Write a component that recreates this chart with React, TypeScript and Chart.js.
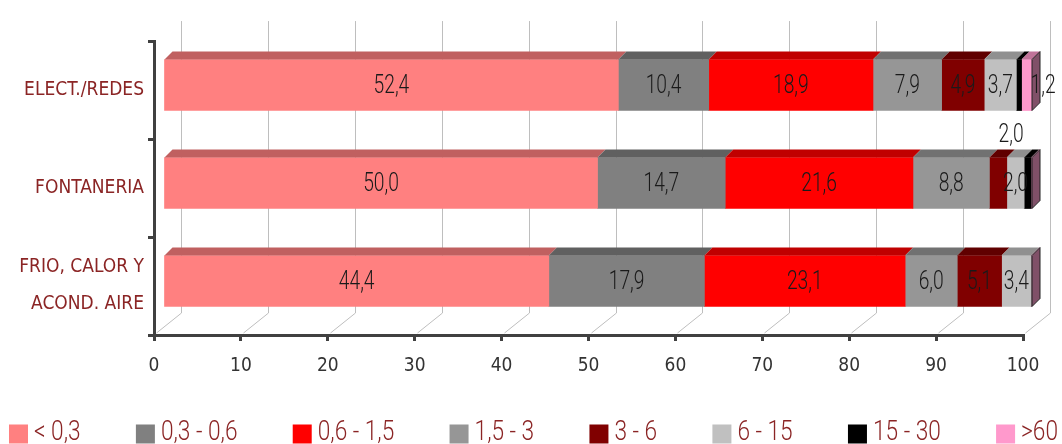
import React, { useEffect, useRef } from "react";
import { Chart, registerables } from "chart.js";
Chart.register(...registerables);

const FONT = "'Liberation Sans Narrow', 'Arial Narrow', 'DejaVu Sans Condensed', sans-serif";
const LIGHT_FONT = "Roboto, 'Open Sans', sans-serif";

const categories = [["ELECT./REDES"], ["FONTANERIA"], ["FRIO, CALOR Y", "ACOND. AIRE"]];
const seriesNames = ["< 0,3", "0,3 - 0,6", "0,6 - 1,5", "1,5 - 3", "3 - 6", "6 - 15", "15 - 30", ">60"];
const sLt03 = [52.4, 50.0, 44.4];
const s03to06 = [10.4, 14.7, 17.9];
const s06to15 = [18.9, 21.6, 23.1];
const s15to3 = [7.9, 8.8, 6.0];
const s3to6 = [4.9, 2.0, 5.1];
const s6to15 = [3.7, 2.0, 3.4];
const s15to30 = [0.6, 0.8, 0.0];
const sGt60 = [1.2, 0.1, 0.1];
const seriesValues = [sLt03, s03to06, s06to15, s15to3, s3to6, s6to15, s15to30, sGt60];
const xTicks = [0, 10, 20, 30, 40, 50, 60, 70, 80, 90, 100];

const frontColors = ["#FF8080", "#808080", "#FF0000", "#969696", "#800000", "#C0C0C0", "#000000", "#FF99CC"];
const topColors = ["#C06060", "#606060", "#C00000", "#717171", "#600000", "#909090", "#000000", "#C07399"];
const sideColors = ["#804040", "#404040", "#800000", "#4B4B4B", "#400000", "#606060", "#000000", "#805068"];
// [category, series] whose value label sits above the bar
const raisedLabels = [[1, 4]];

const DEPTH = 8;
const SHIFT_X = 9;
const SHIFT_Y = -5;
const WALL_X = 27;
const WALL_Y = -22;
const LABEL_SIZE = 26;
const LABEL_SX = 0.74;
const LEGEND_SIZE = 27;
const LEGEND_SX = 0.84;

function fmt(v: number) {
  return v.toFixed(1).replace(".", ",");
}

function narrowText(ctx: any, txt: string, x: number, y: number, align: string, sx: number) {
  ctx.save();
  ctx.translate(x, y);
  ctx.scale(sx, 1);
  ctx.textAlign = align;
  ctx.fillText(txt, 0, 0);
  ctx.restore();
}

const threeD = {
  id: "threeD",
  beforeDatasetsDraw(chart: any) {
    const { ctx, chartArea, scales } = chart;
    const x = scales.x;
    ctx.save();
    ctx.strokeStyle = "#BEBEBE";
    ctx.lineWidth = 1;
    xTicks.forEach((v) => {
      const px = Math.round(x.getPixelForValue(v)) + 0.5;
      ctx.beginPath();
      ctx.moveTo(px + 2, chartArea.bottom - 2);
      ctx.lineTo(px + WALL_X, chartArea.bottom + WALL_Y);
      ctx.lineTo(px + WALL_X, chartArea.top - 20);
      ctx.stroke();
    });
    ctx.restore();
    ctx.save();
    ctx.translate(SHIFT_X, SHIFT_Y);
  },
  afterDatasetsDraw(chart: any) {
    const ctx = chart.ctx;
    const nCat = chart.data.labels.length;
    const nSet = chart.data.datasets.length;
    for (let j = 0; j < nCat; j++) {
      let last = -1;
      for (let i = 0; i < nSet; i++) if (chart.data.datasets[i].data[j] > 0) last = i;
      for (let i = 0; i < nSet; i++) {
        const v = chart.data.datasets[i].data[j];
        if (!(v > 0)) continue;
        const bar = chart.getDatasetMeta(i).data[j];
        const p = bar.getProps(["x", "y", "base", "height"], true);
        const x0 = Math.min(p.base, p.x);
        const x1 = Math.max(p.base, p.x);
        const y0 = p.y - p.height / 2;
        const y1 = p.y + p.height / 2;
        ctx.fillStyle = topColors[i];
        ctx.beginPath();
        ctx.moveTo(x0, y0);
        ctx.lineTo(x0 + DEPTH, y0 - DEPTH);
        ctx.lineTo(x1 + DEPTH, y0 - DEPTH);
        ctx.lineTo(x1, y0);
        ctx.closePath();
        ctx.fill();
        if (i === last) {
          ctx.fillStyle = sideColors[i];
          ctx.beginPath();
          ctx.moveTo(x1, y0);
          ctx.lineTo(x1 + DEPTH, y0 - DEPTH);
          ctx.lineTo(x1 + DEPTH, y1 - DEPTH);
          ctx.lineTo(x1, y1);
          ctx.closePath();
          ctx.fill();
          ctx.strokeStyle = "#222";
          ctx.lineWidth = 1;
          ctx.stroke();
        }
      }
    }
    ctx.font = "300 " + LABEL_SIZE + "px " + LIGHT_FONT;
    ctx.fillStyle = "#1A1A1A";
    ctx.textBaseline = "middle";
    for (let j = 0; j < nCat; j++) {
      let last = -1;
      for (let i = 0; i < nSet; i++) if (chart.data.datasets[i].data[j] > 0) last = i;
      for (let i = 0; i < nSet; i++) {
        const v = chart.data.datasets[i].data[j];
        if (!(v >= 1)) continue;
        const bar = chart.getDatasetMeta(i).data[j];
        const p = bar.getProps(["x", "y", "base", "height"], true);
        const x0 = Math.min(p.base, p.x);
        const x1 = Math.max(p.base, p.x);
        const txt = fmt(v);
        const w = ctx.measureText(txt).width * LABEL_SX;
        const raised = raisedLabels.some((r) => r[0] === j && r[1] === i);
        if (raised) {
          narrowText(ctx, txt, (x0 + x1) / 2 + DEPTH + 5, p.y - p.height / 2 - DEPTH - 14, "center", LABEL_SX);
        } else if (i === last && w > x1 - x0) {
          narrowText(ctx, txt, x0 + DEPTH + 1, p.y + 1, "left", LABEL_SX);
        } else {
          narrowText(ctx, txt, (x0 + x1) / 2, p.y + 1, "center", LABEL_SX);
        }
      }
    }
    ctx.restore();
  },
  afterDraw(chart: any) {
    const ctx = chart.ctx;
    ctx.save();
    ctx.font = "300 " + LEGEND_SIZE + "px " + LIGHT_FONT;
    ctx.textBaseline = "middle";
    const box = 19;
    const gapText = 6;
    const widths = seriesNames.map((s) => box + gapText + ctx.measureText(s).width * LEGEND_SX);
    const total = widths.reduce((a, b) => a + b, 0);
    const startX = 9;
    const endX = 1058;
    const gap = (endX - startX - total) / (seriesNames.length - 1);
    let x = startX;
    const yc = 434;
    seriesNames.forEach((s, i) => {
      ctx.fillStyle = frontColors[i];
      ctx.fillRect(x, yc - box / 2, box, box);
      ctx.fillStyle = "#8B2525";
      narrowText(ctx, s, x + box + gapText, yc - 1, "left", LEGEND_SX);
      x += widths[i] + gap;
    });
    ctx.restore();
  },
};

export default function App() {
  const ref = useRef<HTMLCanvasElement>(null);
  useEffect(() => {
    document.body.style.margin = "0";
    const chart = new Chart(ref.current as HTMLCanvasElement, {
      type: "bar",
      data: {
        labels: categories as any,
        datasets: seriesNames.map((name, i) => ({
          label: name,
          data: seriesValues[i],
          backgroundColor: frontColors[i],
          borderWidth: 0,
          barThickness: 51,
        })),
      },
      options: {
        indexAxis: "y",
        animation: false,
        responsive: true,
        maintainAspectRatio: false,
        layout: { padding: { left: 0, right: 39, top: 35, bottom: 49 } },
        plugins: { legend: { display: false }, tooltip: { enabled: false } },
        scales: {
          x: {
            stacked: true,
            min: 0,
            max: 100,
            afterFit: (s: any) => {
              s.height = 60;
            },
            afterBuildTicks: (s: any) => {
              s.ticks = xTicks.map((v) => ({ value: v }));
            },
            ticks: {
              color: "#333333",
              font: { family: FONT, size: 19 },
              padding: 14,
              maxRotation: 0,
              callback: (v: any) => String(v),
            },
            grid: { display: true, drawOnChartArea: false, drawTicks: true, tickLength: 6, color: "#404040", lineWidth: 3 },
            border: { display: true, color: "#404040", width: 3 },
          },
          y: {
            stacked: true,
            afterFit: (s: any) => {
              s.width = 154;
            },
            ticks: {
              color: "#8B2525",
              font: { family: FONT, size: 19, lineHeight: 1.95 },
              padding: 4,
            },
            grid: { display: true, offset: true, drawOnChartArea: false, drawTicks: true, tickLength: 6, color: "#404040", lineWidth: 3 },
            border: { display: true, color: "#404040", width: 3 },
          },
        },
      } as any,
      plugins: [threeD],
    });
    return () => chart.destroy();
  }, []);
  return (
    <div style={{ width: 1062, height: 444, position: "relative" }}>
      <canvas ref={ref} />
    </div>
  );
}
